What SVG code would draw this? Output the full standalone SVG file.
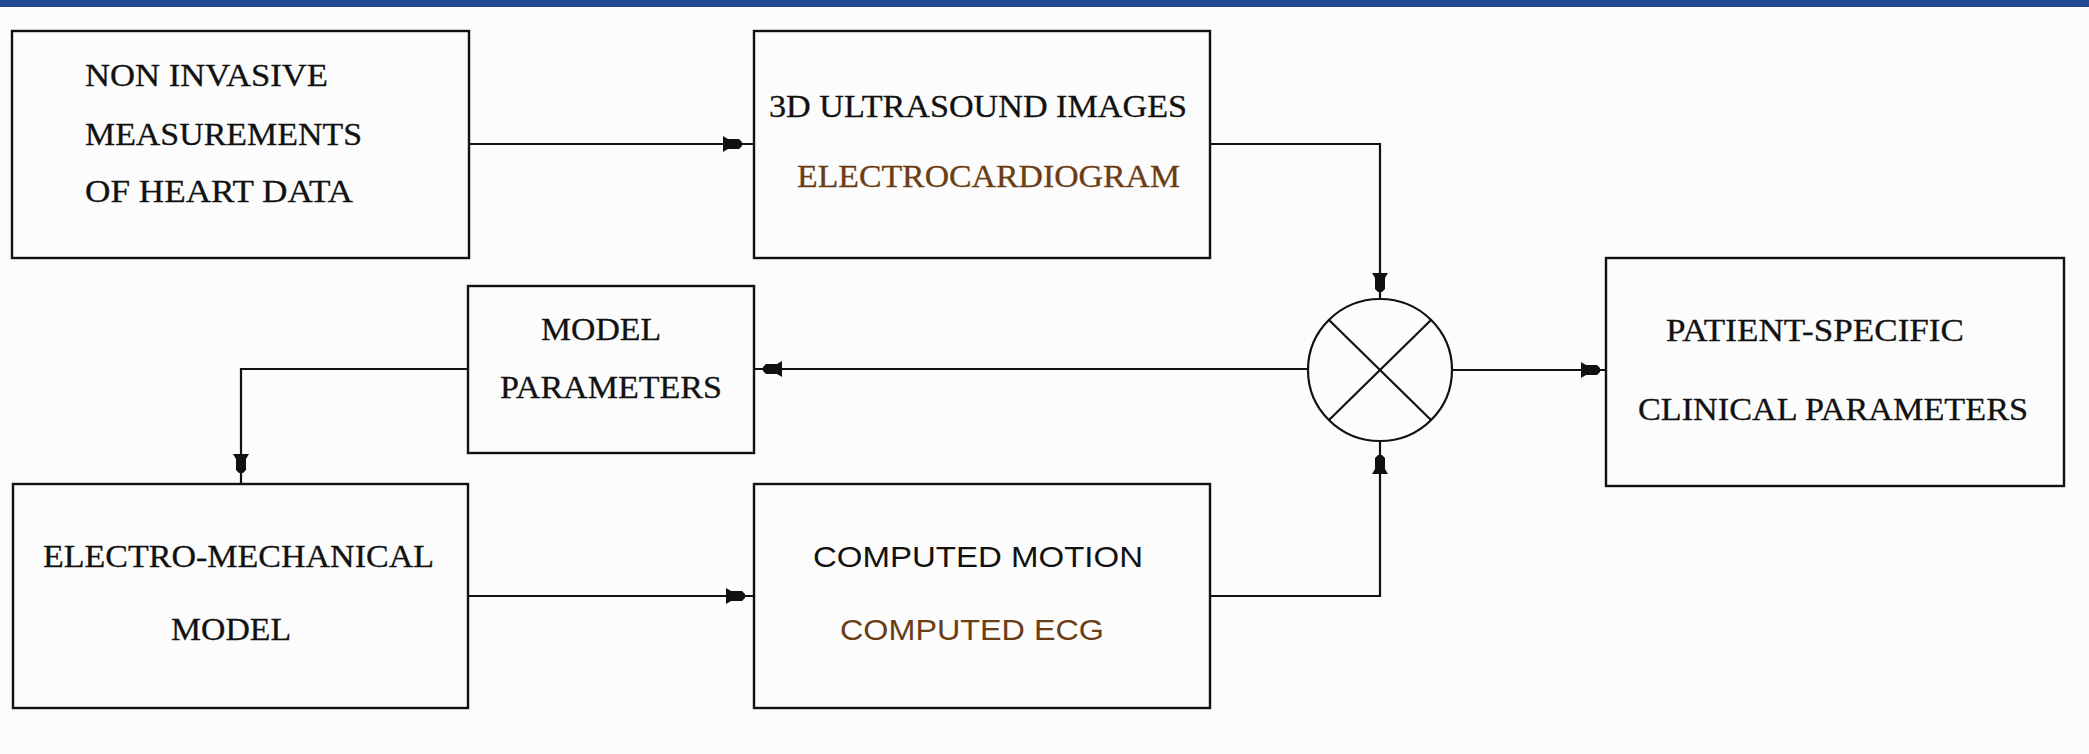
<svg xmlns="http://www.w3.org/2000/svg" xmlns:xlink="http://www.w3.org/1999/xlink" width="2089" height="754" viewBox="0 0 2089 754">
<style>
.box{fill:none;stroke:#111;stroke-width:2.4}
.ln{fill:none;stroke:#111;stroke-width:2.2}
.t{font-family:"Liberation Serif","Times New Roman",serif;font-size:32px;fill:#111;stroke:#111;stroke-width:0.3}
.s{font-family:"Liberation Sans",Arial,sans-serif;font-size:30px;fill:#111}
.br{fill:#6b3d14}
.t.br{stroke:#6b3d14}
</style>
<defs>
<path id="ah" d="M0,-2 L-3,-5 L-14,-5 L-19,-8 L-19,8 L-14,5 L-3,5 L0,2 Z" fill="#111"/>
</defs>
<rect x="0" y="0" width="2089" height="754" fill="#fcfcfc"/>
<rect x="0" y="0" width="2089" height="7" fill="#234a93"/>

<g id="connectors">
<polyline class="ln" points="469,144 754,144"/>
<use xlink:href="#ah" transform="translate(742,144)"/>
<polyline class="ln" points="1210,144 1380,144 1380,299"/>
<use xlink:href="#ah" transform="translate(1380,292) rotate(90)"/>
<polyline class="ln" points="1452,370 1606,370"/>
<use xlink:href="#ah" transform="translate(1600,370)"/>
<polyline class="ln" points="1308,369 754,369"/>
<use xlink:href="#ah" transform="translate(763,369) rotate(180)"/>
<polyline class="ln" points="468,369 241,369 241,484"/>
<use xlink:href="#ah" transform="translate(241,473) rotate(90)"/>
<polyline class="ln" points="468,596 754,596"/>
<use xlink:href="#ah" transform="translate(745,596)"/>
<polyline class="ln" points="1210,596 1380,596 1380,441"/>
<use xlink:href="#ah" transform="translate(1380,455) rotate(-90)"/>
</g>

<g id="node-measurements">
<rect class="box" x="12" y="31" width="457" height="227"/>
<text class="t" x="85" y="86" textLength="243" lengthAdjust="spacingAndGlyphs">NON INVASIVE</text>
<text class="t" x="85" y="145" textLength="277" lengthAdjust="spacingAndGlyphs">MEASUREMENTS</text>
<text class="t" x="85" y="202" textLength="268" lengthAdjust="spacingAndGlyphs">OF HEART DATA</text>
</g>

<g id="node-ultrasound">
<rect class="box" x="754" y="31" width="456" height="227"/>
<text class="t" x="769" y="117" textLength="418" lengthAdjust="spacingAndGlyphs">3D ULTRASOUND IMAGES</text>
<text class="t br" x="797" y="187" textLength="383" lengthAdjust="spacingAndGlyphs">ELECTROCARDIOGRAM</text>
</g>

<g id="node-model-parameters">
<rect class="box" x="468" y="286" width="286" height="167"/>
<text class="t" x="541" y="340" textLength="120" lengthAdjust="spacingAndGlyphs">MODEL</text>
<text class="t" x="500" y="398" textLength="222" lengthAdjust="spacingAndGlyphs">PARAMETERS</text>
</g>

<g id="node-comparator">
<ellipse cx="1380" cy="370" rx="72" ry="71" fill="none" stroke="#111" stroke-width="2.2"/>
<line class="ln" x1="1329" y1="320" x2="1431" y2="420"/>
<line class="ln" x1="1431" y1="320" x2="1329" y2="420"/>
</g>

<g id="node-patient">
<rect class="box" x="1606" y="258" width="458" height="228"/>
<text class="t" x="1666" y="341" textLength="298" lengthAdjust="spacingAndGlyphs">PATIENT-SPECIFIC</text>
<text class="t" x="1638" y="420" textLength="390" lengthAdjust="spacingAndGlyphs">CLINICAL PARAMETERS</text>
</g>

<g id="node-em-model">
<rect class="box" x="13" y="484" width="455" height="224"/>
<text class="t" x="43" y="567" textLength="391" lengthAdjust="spacingAndGlyphs">ELECTRO-MECHANICAL</text>
<text class="t" x="171" y="640" textLength="120" lengthAdjust="spacingAndGlyphs">MODEL</text>
</g>

<g id="node-computed">
<rect class="box" x="754" y="484" width="456" height="224"/>
<text class="s" x="813" y="567" textLength="330" lengthAdjust="spacingAndGlyphs">COMPUTED MOTION</text>
<text class="s br" x="840" y="640" textLength="264" lengthAdjust="spacingAndGlyphs">COMPUTED ECG</text>
</g>
</svg>
